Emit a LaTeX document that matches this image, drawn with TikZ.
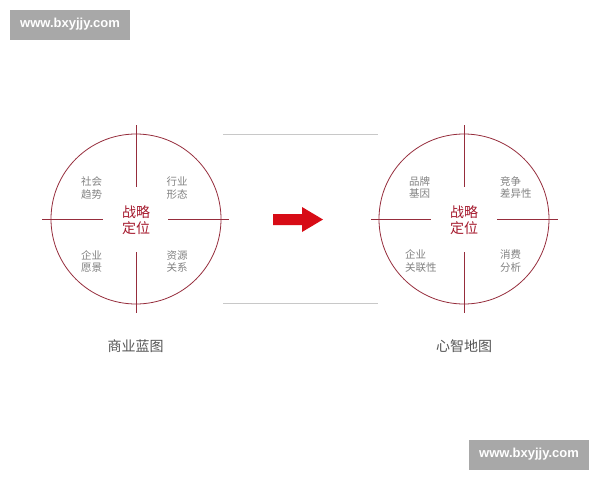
\documentclass[tikz,border=0pt]{standalone}
\usepackage{fontspec}
\setmainfont{Liberation Sans}
\newfontfamily\cjk{Noto Sans CJK SC}
\definecolor{ringred}{RGB}{150,45,60}
\definecolor{corered}{RGB}{165,25,45}
\definecolor{labgrey}{RGB}{130,130,130}
\definecolor{capgrey}{RGB}{85,85,85}
\definecolor{arrowred}{RGB}{215,12,22}
\definecolor{wmgrey}{RGB}{168,168,168}
\definecolor{sepgrey}{RGB}{200,200,200}
\begin{document}
\begin{tikzpicture}[x=1pt,y=-1pt,
  ring/.style={draw=ringred,line width=0.8pt,circle,minimum size=170pt,inner sep=0pt},
  crossline/.style={draw=ringred,line width=0.8pt},
  core/.style={font=\cjk\fontsize{14}{16}\selectfont,text=corered,align=center,inner sep=0pt},
  quad/.style={font=\cjk\fontsize{10.5}{12.5}\selectfont,text=labgrey,align=left,inner sep=0pt},
  caption/.style={font=\cjk\fontsize{14}{16}\selectfont,text=capgrey,inner sep=0pt},
  sepline/.style={draw=sepgrey,line width=0.9pt},
  wmbox/.style={fill=wmgrey,minimum width=120pt,minimum height=30pt,inner sep=0pt,
    text=white,font=\bfseries\fontsize{13}{15}\selectfont}
]
\useasboundingbox (0,0) rectangle (600,480);
\fill[white] (0,0) rectangle (600,480);

% watermarks
\node[wmbox] (wm1) at (70,24.5) {www.bxyjjy.com};
\node[wmbox] (wm2) at (529,454.5) {www.bxyjjy.com};

% left ring
\node[ring] (L) at (136,219) {};
\coordinate (Lt1) at (136,125); \coordinate (Lt2) at (136,187);
\coordinate (Lb1) at (136,252); \coordinate (Lb2) at (136,313);
\coordinate (Ll1) at (42,219);  \coordinate (Ll2) at (103,219);
\coordinate (Lr1) at (168,219); \coordinate (Lr2) at (229,219);
\draw[crossline] (Lt1) -- (Lt2);
\draw[crossline] (Lb1) -- (Lb2);
\draw[crossline] (Ll1) -- (Ll2);
\draw[crossline] (Lr1) -- (Lr2);
\node[core] (Lc) at (136,220) {战略\\定位};
\node[quad] (L1) at (91.5,188) {社会\\趋势};
\node[quad] (L2) at (177,188) {行业\\形态};
\node[quad] (L3) at (91.5,261.5) {企业\\愿景};
\node[quad] (L4) at (177,261.5) {资源\\关系};
\node[caption] (Lcap) at (135.5,346) {商业蓝图};

% right ring
\node[ring] (R) at (464,219) {};
\coordinate (Rt1) at (464,125); \coordinate (Rt2) at (464,187);
\coordinate (Rb1) at (464,252); \coordinate (Rb2) at (464,313);
\coordinate (Rl1) at (371,219); \coordinate (Rl2) at (431,219);
\coordinate (Rr1) at (497,219); \coordinate (Rr2) at (558,219);
\draw[crossline] (Rt1) -- (Rt2);
\draw[crossline] (Rb1) -- (Rb2);
\draw[crossline] (Rl1) -- (Rl2);
\draw[crossline] (Rr1) -- (Rr2);
\node[core] (Rc) at (464,220) {战略\\定位};
\node[quad,anchor=north west] (R1) at (409,176) {品牌\\基因};
\node[quad,anchor=north west] (R2) at (500,176) {竞争\\差异性};
\node[quad,anchor=north west] (R3) at (405,249.5) {企业\\关联性};
\node[quad,anchor=north west] (R4) at (500,249.5) {消费\\分析};
\node[caption] (Rcap) at (464,346) {心智地图};

% separator lines
\coordinate (s1a) at (223,134.5); \coordinate (s1b) at (378,134.5);
\coordinate (s2a) at (223,303.5); \coordinate (s2b) at (378,303.5);
\draw[sepline] (s1a) -- (s1b);
\draw[sepline] (s2a) -- (s2b);

% block arrow
\fill[arrowred] (273,214) -- (302,214) -- (302,207) -- (323,219.5) -- (302,232) -- (302,225) -- (273,225) -- cycle;
\end{tikzpicture}
\end{document}
